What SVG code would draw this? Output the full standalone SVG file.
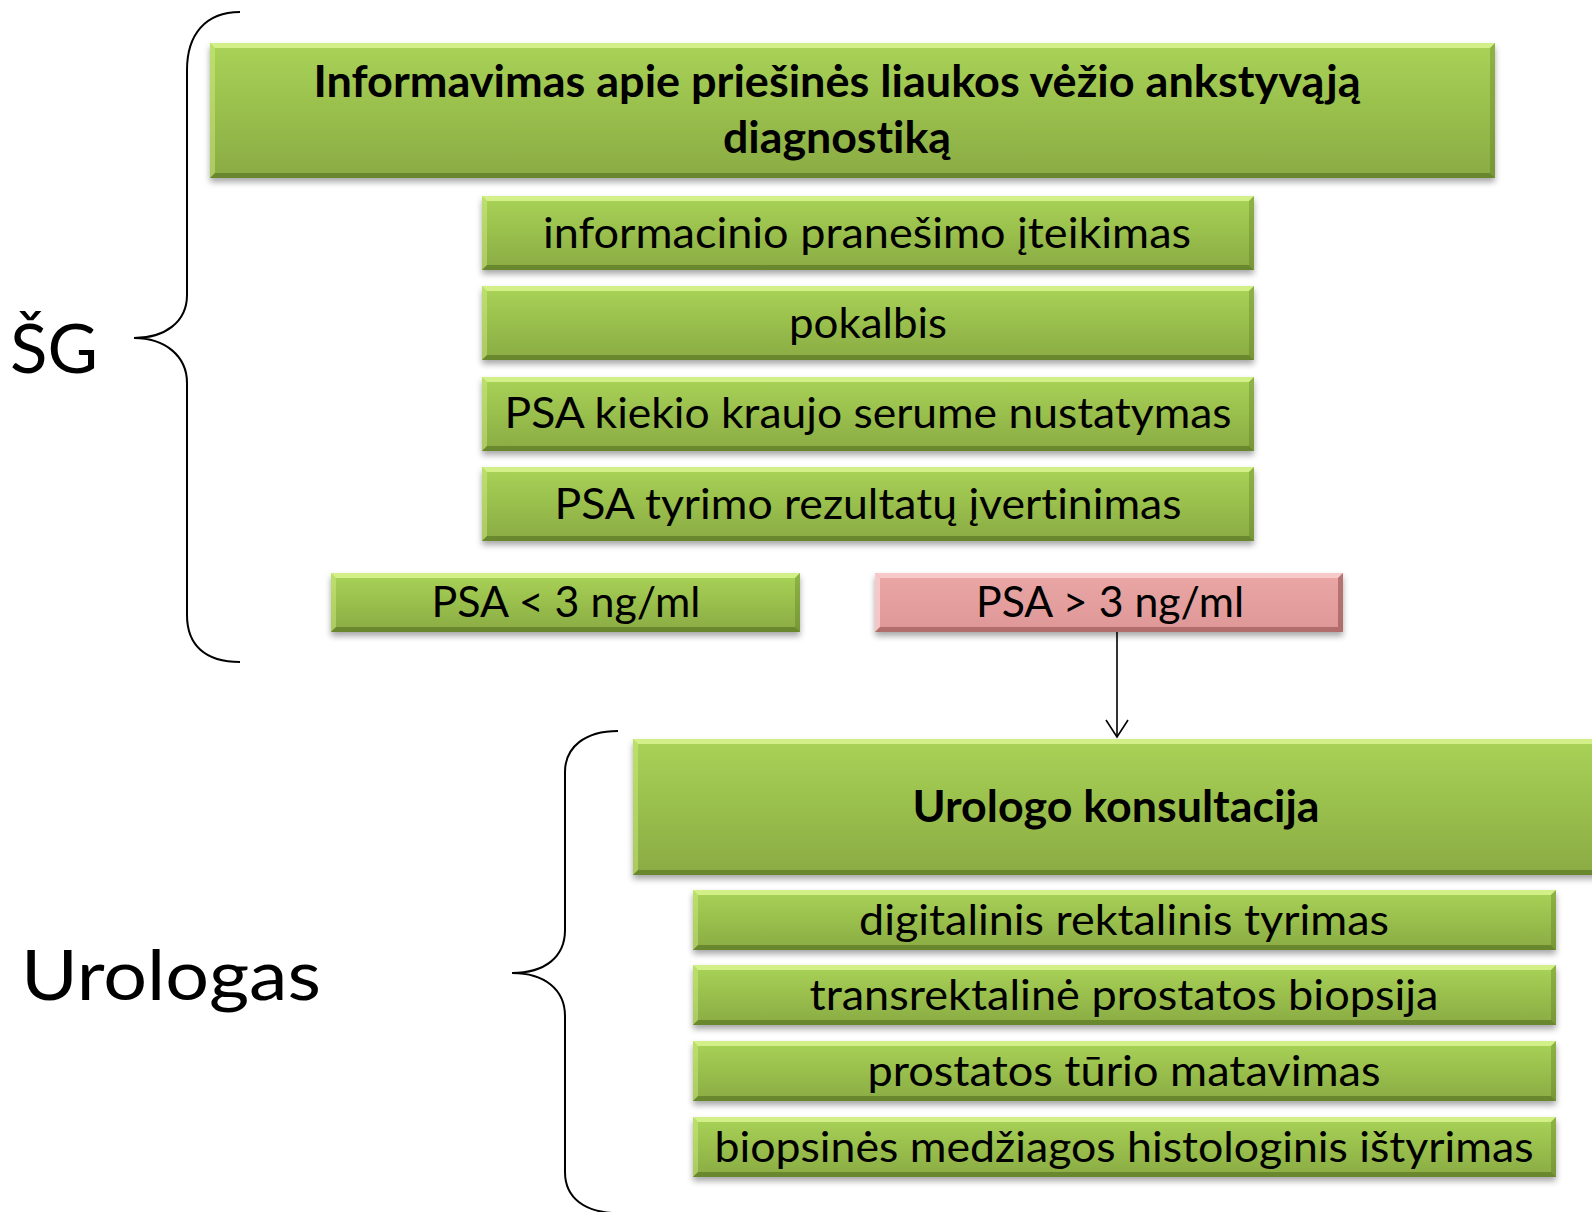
<svg xmlns="http://www.w3.org/2000/svg" width="1592" height="1212" viewBox="0 0 1592 1212">
<style>
.t{font-family:Lato,"Open Sans","Noto Sans",sans-serif;font-size:43px;fill:#000;text-anchor:middle;font-variant-ligatures:none}
.b{font-weight:bold}
.side{font-family:Lato,"Open Sans","Noto Sans",sans-serif;fill:#000;font-variant-ligatures:none}
.g{fill:url(#gg);filter:url(#sh)}
.p{fill:url(#pg);filter:url(#sh)}
.hl{fill:#e2fa9a;opacity:.75}
.hl2{fill:#d2ef86;opacity:.45}
.dk{fill:#4f6a1c;opacity:.55}
.dk2{fill:#4f6a1c;opacity:.3}
.phl{fill:#fbd6d5;opacity:.75}
.pdk{fill:#8a4a49;opacity:.55}
.br{fill:none;stroke:#000;stroke-width:2}
.cn{fill:none;stroke:#000;stroke-width:1.6}
</style>
<defs>
<linearGradient id="gg" x1="0" y1="0" x2="0" y2="1">
<stop offset="0" stop-color="#a9d357"/>
<stop offset="1" stop-color="#8aab43"/>
</linearGradient>
<linearGradient id="pg" x1="0" y1="0" x2="0" y2="1">
<stop offset="0" stop-color="#eaa7a6"/>
<stop offset="1" stop-color="#dd9796"/>
</linearGradient>
<filter id="sh" x="-5%" y="-20%" width="110%" height="150%">
<feDropShadow dx="0" dy="4" stdDeviation="3" flood-color="#000" flood-opacity="0.35"/>
</filter>
<marker id="ah" markerUnits="userSpaceOnUse" markerWidth="22" markerHeight="26" viewBox="0 0 22 26" refX="19" refY="13" orient="auto">
<path d="M2,2 L19,13 L2,24" fill="none" stroke="#000" stroke-width="1.6"/>
</marker>
</defs>

<path id="brace-sg" class="br" d="M240,12 C205,12 187,35 187,70 L187,295 C187,322 165,338 134,338 C165,338 187,356 187,383 L187,615 C187,645 205,662 240,662"/>
<path id="brace-urol" class="br" d="M618,731 C585,731 565,747 565,772 L565,930 C565,957 545,973 512,973 C545,973 565,990 565,1016 L565,1172 C565,1198 585,1213 618,1213"/>

<text id="label-sg" class="side" x="10" y="373" font-size="68" textLength="88" lengthAdjust="spacingAndGlyphs">ŠG</text>
<text id="label-urologas" class="side" x="21" y="1000" font-size="70" textLength="300" lengthAdjust="spacingAndGlyphs">Urologas</text>

<g id="node-title">
<rect class="g" x="210" y="43" width="1285" height="135"/>
<polygon class="hl" points="210,43 1495,43 1490,48 215,48"/>
<polygon class="hl2" points="210,43 215,48 215,173 210,178"/>
<polygon class="dk" points="210,178 215,173 1490,173 1495,178"/>
<polygon class="dk2" points="1495,43 1495,178 1490,173 1490,48"/>
<text class="t b" x="837" y="97" textLength="1047" lengthAdjust="spacingAndGlyphs">Informavimas apie priešinės liaukos vėžio ankstyvąją</text>
<text class="t b" x="837" y="153" textLength="228" lengthAdjust="spacingAndGlyphs">diagnostiką</text>
</g>

<g id="node-info1">
<rect class="g" x="482" y="196" width="772" height="74"/>
<polygon class="hl" points="482,196 1254,196 1249,201 487,201"/>
<polygon class="hl2" points="482,196 487,201 487,265 482,270"/>
<polygon class="dk" points="482,270 487,265 1249,265 1254,270"/>
<polygon class="dk2" points="1254,196 1254,270 1249,265 1249,201"/>
<text class="t" x="867" y="248" textLength="648" lengthAdjust="spacingAndGlyphs">informacinio pranešimo įteikimas</text>
</g>

<g id="node-info2">
<rect class="g" x="482" y="286" width="772" height="74"/>
<polygon class="hl" points="482,286 1254,286 1249,291 487,291"/>
<polygon class="hl2" points="482,286 487,291 487,355 482,360"/>
<polygon class="dk" points="482,360 487,355 1249,355 1254,360"/>
<polygon class="dk2" points="1254,286 1254,360 1249,355 1249,291"/>
<text class="t" x="868" y="338" textLength="158" lengthAdjust="spacingAndGlyphs">pokalbis</text>
</g>

<g id="node-info3">
<rect class="g" x="482" y="377" width="772" height="74"/>
<polygon class="hl" points="482,377 1254,377 1249,382 487,382"/>
<polygon class="hl2" points="482,377 487,382 487,446 482,451"/>
<polygon class="dk" points="482,451 487,446 1249,446 1254,451"/>
<polygon class="dk2" points="1254,377 1254,451 1249,446 1249,382"/>
<text class="t" x="868" y="428" textLength="727" lengthAdjust="spacingAndGlyphs">PSA kiekio kraujo serume nustatymas</text>
</g>

<g id="node-info4">
<rect class="g" x="482" y="467" width="772" height="74"/>
<polygon class="hl" points="482,467 1254,467 1249,472 487,472"/>
<polygon class="hl2" points="482,467 487,472 487,536 482,541"/>
<polygon class="dk" points="482,541 487,536 1249,536 1254,541"/>
<polygon class="dk2" points="1254,467 1254,541 1249,536 1249,472"/>
<text class="t" x="868" y="519" textLength="627" lengthAdjust="spacingAndGlyphs">PSA tyrimo rezultatų įvertinimas</text>
</g>

<g id="node-psa-low">
<rect class="g" x="331" y="573" width="469" height="59"/>
<polygon class="hl" points="331,573 800,573 795,578 336,578"/>
<polygon class="hl2" points="331,573 336,578 336,627 331,632"/>
<polygon class="dk" points="331,632 336,627 795,627 800,632"/>
<polygon class="dk2" points="800,573 800,632 795,627 795,578"/>
<text class="t" x="566" y="617" textLength="269" lengthAdjust="spacingAndGlyphs">PSA &lt; 3 ng/ml</text>
</g>

<g id="node-psa-high">
<rect class="p" x="875" y="573" width="468" height="59"/>
<polygon class="phl" points="875,573 1343,573 1338,578 880,578"/>
<polygon class="phl" opacity=".4" points="875,573 880,578 880,627 875,632"/>
<polygon class="pdk" points="875,632 880,627 1338,627 1343,632"/>
<polygon class="pdk" opacity=".35" points="1343,573 1343,632 1338,627 1338,578"/>
<text class="t" x="1110" y="617" textLength="268" lengthAdjust="spacingAndGlyphs">PSA &gt; 3 ng/ml</text>
</g>

<g id="node-urologo">
<rect class="g" x="633" y="739" width="1000" height="136"/>
<polygon class="hl" points="633,739 1633,739 1628,744 638,744"/>
<polygon class="hl2" points="633,739 638,744 638,870 633,875"/>
<polygon class="dk" points="633,875 638,870 1628,870 1633,875"/>
<text class="t b" x="1116" y="822" textLength="407" lengthAdjust="spacingAndGlyphs">Urologo konsultacija</text>
</g>

<g id="node-uro1">
<rect class="g" x="693" y="890" width="863" height="60"/>
<polygon class="hl" points="693,890 1556,890 1551,895 698,895"/>
<polygon class="hl2" points="693,890 698,895 698,945 693,950"/>
<polygon class="dk" points="693,950 698,945 1551,945 1556,950"/>
<polygon class="dk2" points="1556,890 1556,950 1551,945 1551,895"/>
<text class="t" x="1124" y="935" textLength="530" lengthAdjust="spacingAndGlyphs">digitalinis rektalinis tyrimas</text>
</g>

<g id="node-uro2">
<rect class="g" x="693" y="965" width="863" height="60"/>
<polygon class="hl" points="693,965 1556,965 1551,970 698,970"/>
<polygon class="hl2" points="693,965 698,970 698,1020 693,1025"/>
<polygon class="dk" points="693,1025 698,1020 1551,1020 1556,1025"/>
<polygon class="dk2" points="1556,965 1556,1025 1551,1020 1551,970"/>
<text class="t" x="1124" y="1010" textLength="629" lengthAdjust="spacingAndGlyphs">transrektalinė prostatos biopsija</text>
</g>

<g id="node-uro3">
<rect class="g" x="693" y="1041" width="863" height="60"/>
<polygon class="hl" points="693,1041 1556,1041 1551,1046 698,1046"/>
<polygon class="hl2" points="693,1041 698,1046 698,1096 693,1101"/>
<polygon class="dk" points="693,1101 698,1096 1551,1096 1556,1101"/>
<polygon class="dk2" points="1556,1041 1556,1101 1551,1096 1551,1046"/>
<text class="t" x="1124" y="1086" textLength="513" lengthAdjust="spacingAndGlyphs">prostatos tūrio matavimas</text>
</g>

<g id="node-uro4">
<rect class="g" x="693" y="1117" width="863" height="60"/>
<polygon class="hl" points="693,1117 1556,1117 1551,1122 698,1122"/>
<polygon class="hl2" points="693,1117 698,1122 698,1172 693,1177"/>
<polygon class="dk" points="693,1177 698,1172 1551,1172 1556,1177"/>
<polygon class="dk2" points="1556,1117 1556,1177 1551,1172 1551,1122"/>
<text class="t" x="1124" y="1162" textLength="819" lengthAdjust="spacingAndGlyphs">biopsinės medžiagos histologinis ištyrimas</text>
</g>

<g id="connectors">
<line class="cn" x1="1117" y1="632" x2="1117" y2="737" marker-end="url(#ah)"/>
</g>
</svg>
